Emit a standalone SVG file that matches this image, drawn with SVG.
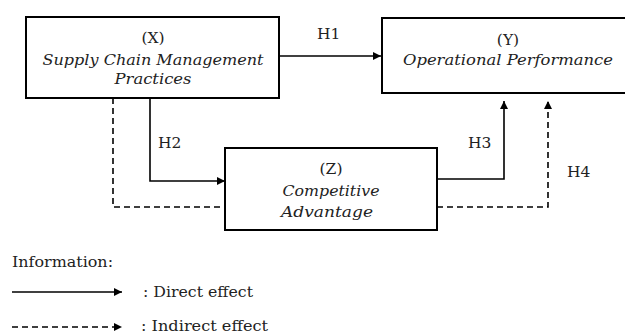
<svg xmlns="http://www.w3.org/2000/svg" width="625" height="334" viewBox="0 0 625 334">
<defs>
<style>
.box{fill:#fff;stroke:#000;stroke-width:2}
.t{font-family:"DejaVu Serif","Liberation Serif",serif;font-size:15.5px;fill:#222;text-anchor:middle}
.i{font-style:italic}
.l{font-family:"DejaVu Serif","Liberation Serif",serif;font-size:15.5px;fill:#222}
.c{fill:none;stroke:#000;stroke-width:1.6}
.d{stroke-dasharray:6 4}
</style>
<marker id="ah" viewBox="0 0 10 10" refX="10" refY="5" markerWidth="9" markerHeight="8" markerUnits="userSpaceOnUse" orient="auto">
<path d="M0,0 L10,5 L0,10 z" fill="#000"/>
</marker>
</defs>
<g id="connectors">
<path class="c" d="M279,56 H381" marker-end="url(#ah)"/>
<path class="c" d="M150,98 V181 H225" marker-end="url(#ah)"/>
<path class="c d" d="M113,98 V207 H225"/>
<path class="c" d="M437,179 H504 V101" marker-end="url(#ah)"/>
<path class="c d" d="M437,207 H548 V101" marker-end="url(#ah)"/>
</g>
<g id="labels">
<text class="l" x="317" y="39">H1</text>
<text class="l" x="158" y="148">H2</text>
<text class="l" x="468" y="148">H3</text>
<text class="l" x="567" y="177">H4</text>
</g>
<g id="nodeX">
<rect class="box" x="26" y="17" width="253" height="81"/>
<text class="t" x="153" y="43">(X)</text>
<text class="t i" x="153" y="65" textLength="221" lengthAdjust="spacingAndGlyphs">Supply Chain Management</text>
<text class="t i" x="153" y="84" textLength="77" lengthAdjust="spacingAndGlyphs">Practices</text>
</g>
<g id="nodeY">
<rect class="box" x="382" y="18" width="260" height="75"/>
<text class="t" x="508" y="45">(Y)</text>
<text class="t i" x="508" y="65" textLength="210" lengthAdjust="spacingAndGlyphs">Operational Performance</text>
</g>
<g id="nodeZ">
<rect class="box" x="225" y="148" width="212" height="82"/>
<text class="t" x="331" y="174">(Z)</text>
<text class="t i" x="331" y="196" textLength="97" lengthAdjust="spacingAndGlyphs">Competitive</text>
<text class="t i" x="327" y="217" textLength="92" lengthAdjust="spacingAndGlyphs">Advantage</text>
</g>
<g id="legend">
<text class="l" x="12" y="267" textLength="101" lengthAdjust="spacingAndGlyphs">Information:</text>
<path class="c" d="M12,292 H122" marker-end="url(#ah)"/>
<text class="l" x="143" y="297" textLength="110" lengthAdjust="spacingAndGlyphs">: Direct effect</text>
<path class="c d" d="M12,327 H122" marker-end="url(#ah)"/>
<text class="l" x="141" y="331" textLength="127" lengthAdjust="spacingAndGlyphs">: Indirect effect</text>
</g>
</svg>
